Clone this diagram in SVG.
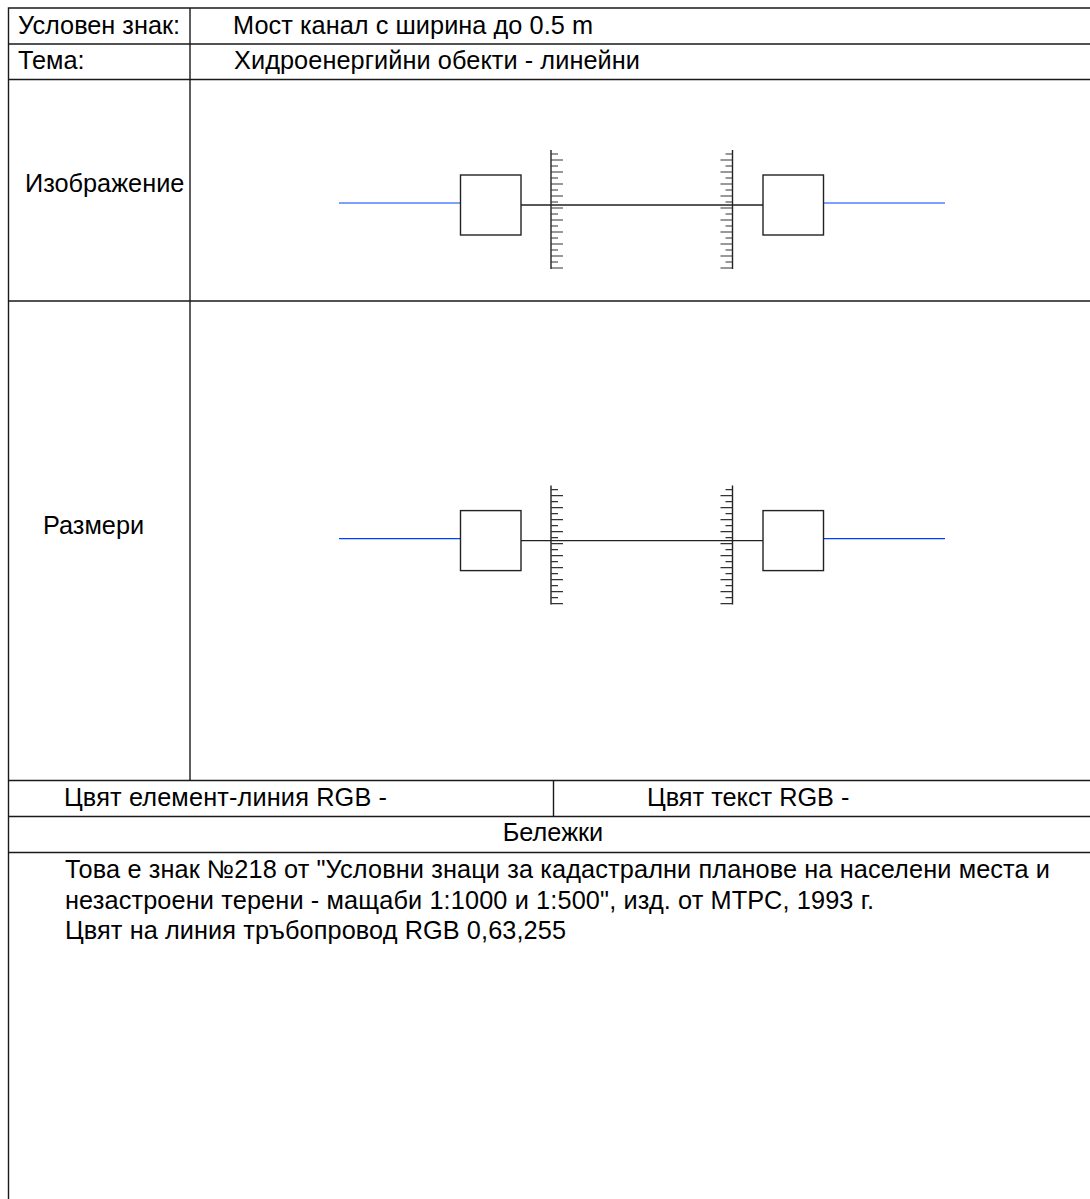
<svg xmlns="http://www.w3.org/2000/svg" xmlns:xlink="http://www.w3.org/1999/xlink" width="1090" height="1199" viewBox="0 0 1090 1199">
<style>
text{font-family:"Liberation Sans",Arial,sans-serif;font-size:25.3px;fill:#000}
.g{stroke:#1a1a1a;stroke-width:1.4;fill:none}
.s{stroke:#222;stroke-width:1.4;fill:none}
.b{stroke:#0040ff;stroke-width:1.2;fill:none}
.t{stroke:#333;stroke-width:1.2;fill:none}
.m{text-anchor:middle}
</style>
<defs>
<g id="sym">
<path class="b" d="M339 203H460M824 203H945"/>
<rect class="s" x="460.5" y="175" width="60.5" height="60"/>
<rect class="s" x="763" y="175" width="60.5" height="60"/>
<path class="s" d="M521 205H763M551 150V269M732.5 150V269"/>
<path class="t" d="M551 154h7M551 160h12M551 166h7M551 172h12M551 178h7M551 184h12M551 190h7M551 196h12M551 202h7M551 208h12M551 214h7M551 220h12M551 226h7M551 232h12M551 238h7M551 244h12M551 250h7M551 256h12M551 262h7M551 268h12"/>
<path class="t" d="M732.500 154h-7M732.500 160h-12M732.500 166h-7M732.500 172h-12M732.500 178h-7M732.500 184h-12M732.500 190h-7M732.500 196h-12M732.500 202h-7M732.500 208h-12M732.500 214h-7M732.500 220h-12M732.500 226h-7M732.500 232h-12M732.500 238h-7M732.500 244h-12M732.500 250h-7M732.500 256h-12M732.500 262h-7M732.500 268h-12"/>
</g>
</defs>
<rect width="1090" height="1199" fill="#fff"/>
<g id="grid">
<path class="g" d="M1090 8H8.500V1199"/>
<path class="g" d="M8 44H1090M8 79.500H1090M8 301H1090M8 780.500H1090M8 816.500H1090M8 852.500H1090"/>
<path class="g" d="M190 8V780.500M553.500 780.500V816.500"/>
</g>
<g id="labels">
<text x="18" y="33.500">Условен знак:</text>
<text x="233" y="33.500" textLength="360">Мост канал с ширина до 0.5 m</text>
<text x="18" y="69">Тема:</text>
<text x="234" y="69" textLength="406">Хидроенергийни обекти - линейни</text>
<text x="25" y="192">Изображение</text>
<text x="43" y="534">Размери</text>
<text x="64" y="806" textLength="323">Цвят елемент-линия RGB -</text>
<text x="647" y="806">Цвят текст RGB -</text>
<text class="m" x="553" y="841">Бележки</text>
<text x="65" y="878" textLength="985">Това е знак №218 от "Условни знаци за кадастрални планове на населени места и</text>
<text x="65" y="908.500" textLength="809">незастроени терени - мащаби 1:1000 и 1:500", изд. от МТРС, 1993 г.</text>
<text x="65" y="939" textLength="501">Цвят на линия тръбопровод RGB 0,63,255</text>
</g>
<g id="symbol-image"><use xlink:href="#sym" href="#sym"/></g>
<g id="symbol-dimensions"><use xlink:href="#sym" href="#sym" transform="translate(0 335.6)"/></g>
</svg>
